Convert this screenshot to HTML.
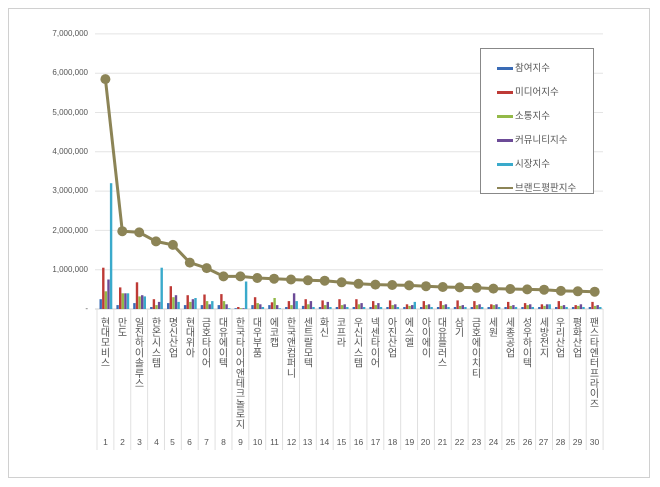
<!DOCTYPE html>
<html><head><meta charset="utf-8"><style>
body{margin:0;background:#fff;width:660px;height:487px;overflow:hidden;font-family:"Liberation Sans","Noto Sans CJK KR",sans-serif}
#frame{position:absolute;left:8px;top:8px;width:642px;height:470px;border:1px solid #d0d0d0;box-sizing:border-box}
.yl{position:absolute;right:572px;font-size:8px;color:#555;text-align:right}
.cl{position:absolute;top:317px;writing-mode:vertical-rl;text-orientation:upright;font-size:10px;color:#555;letter-spacing:0.2px;font-family:"Noto Sans CJK KR",sans-serif;line-height:11px}
.nl{position:absolute;top:437px;font-size:8.5px;color:#555;width:17px;text-align:center}
#leg{position:absolute;left:480px;top:48px;width:112px;height:144px;border:1px solid #888;background:#fff;font-size:9.5px;color:#555;font-family:"Noto Sans CJK KR",sans-serif}
#leg div{position:absolute;left:16px;height:12px;line-height:12px}
#leg span{display:inline-block;width:16px;height:3px;margin-right:2px;vertical-align:middle}
</style></head><body>
<div id="frame"></div>
<svg id="s" width="660" height="487" style="position:absolute;left:0;top:0"></svg>
<div class="yl" style="top:29px">7,000,000</div>
<div class="yl" style="top:68px">6,000,000</div>
<div class="yl" style="top:108px">5,000,000</div>
<div class="yl" style="top:147px">4,000,000</div>
<div class="yl" style="top:186px">3,000,000</div>
<div class="yl" style="top:226px">2,000,000</div>
<div class="yl" style="top:265px">1,000,000</div>
<div class="yl" style="top:304px">-</div>
<div id="cats">
<div class="cl" style="left:100px">현대모비스</div>
<div class="cl" style="left:117px">만도</div>
<div class="cl" style="left:134px">일진하이솔루스</div>
<div class="cl" style="left:151px">한온시스템</div>
<div class="cl" style="left:168px">명신산업</div>
<div class="cl" style="left:185px">현대위아</div>
<div class="cl" style="left:201px">금호타이어</div>
<div class="cl" style="left:218px">대유에이텍</div>
<div class="cl" style="left:235px">한국타이어앤테크놀로지</div>
<div class="cl" style="left:252px">대우부품</div>
<div class="cl" style="left:269px">에코캡</div>
<div class="cl" style="left:286px">한국앤컴퍼니</div>
<div class="cl" style="left:303px">센트랄모텍</div>
<div class="cl" style="left:319px">화신</div>
<div class="cl" style="left:336px">코프라</div>
<div class="cl" style="left:353px">우신시스템</div>
<div class="cl" style="left:370px">넥센타이어</div>
<div class="cl" style="left:387px">아진산업</div>
<div class="cl" style="left:404px">에스엘</div>
<div class="cl" style="left:421px">아이에이</div>
<div class="cl" style="left:437px">대유플러스</div>
<div class="cl" style="left:454px">삼기</div>
<div class="cl" style="left:471px">금호에이치티</div>
<div class="cl" style="left:488px">세원</div>
<div class="cl" style="left:505px">세종공업</div>
<div class="cl" style="left:522px">성우하이텍</div>
<div class="cl" style="left:539px">세방전지</div>
<div class="cl" style="left:555px">우리산업</div>
<div class="cl" style="left:572px">평화산업</div>
<div class="cl" style="left:589px">팬스타엔터프라이즈</div>
</div>
<div class="nl" style="left:97px">1</div><div class="nl" style="left:114px">2</div><div class="nl" style="left:131px">3</div><div class="nl" style="left:148px">4</div><div class="nl" style="left:164px">5</div><div class="nl" style="left:181px">6</div><div class="nl" style="left:198px">7</div><div class="nl" style="left:215px">8</div><div class="nl" style="left:232px">9</div><div class="nl" style="left:249px">10</div><div class="nl" style="left:266px">11</div><div class="nl" style="left:283px">12</div><div class="nl" style="left:299px">13</div><div class="nl" style="left:316px">14</div><div class="nl" style="left:333px">15</div><div class="nl" style="left:350px">16</div><div class="nl" style="left:367px">17</div><div class="nl" style="left:384px">18</div><div class="nl" style="left:401px">19</div><div class="nl" style="left:417px">20</div><div class="nl" style="left:434px">21</div><div class="nl" style="left:451px">22</div><div class="nl" style="left:468px">23</div><div class="nl" style="left:485px">24</div><div class="nl" style="left:502px">25</div><div class="nl" style="left:519px">26</div><div class="nl" style="left:535px">27</div><div class="nl" style="left:552px">28</div><div class="nl" style="left:569px">29</div><div class="nl" style="left:586px">30</div>
<div id="leg">
<div style="top:12px"><span style="background:#3a6bb5"></span>참여지수</div>
<div style="top:36px"><span style="background:#be3a36"></span>미디어지수</div>
<div style="top:60px"><span style="background:#93b948"></span>소통지수</div>
<div style="top:84px"><span style="background:#6c4b97"></span>커뮤니티지수</div>
<div style="top:108px"><span style="background:#3aaacb"></span>시장지수</div>
<div style="top:132px"><span style="background:#8c8456;height:2px"></span>브랜드평판지수</div>
</div>
<script>
var s=document.getElementById('s'),h='';
var X0=97,W=16.87,Y0=309,K=39.3;
for(var i=0;i<7;i++){var y=Y0-(i+1)*K;h+='<line x1="95" x2="603" y1="'+y+'" y2="'+y+'" stroke="#e4e4e4"/>';}
h+='<line x1="95" x2="603" y1="309" y2="309" stroke="#d0d0d0"/>';
for(var i=0;i<=30;i++){var x=X0+i*W;h+='<line x1="'+x+'" x2="'+x+'" y1="309" y2="450" stroke="#e0e0e0"/>';}
var B=[[.25,1.05,.45,.75,3.2],[.1,.55,.4,.4,.4],[.15,.68,.32,.35,.32],[.05,.25,.1,.18,1.05],[.15,.58,.3,.35,.18],[.1,.35,.18,.25,.28],[.1,.37,.2,.12,.2],[.1,.38,.2,.12,.02],[.02,.05,.02,.02,.7],[.1,.3,.15,.12,.05],[.1,.17,.28,.1,.02],[.05,.2,.1,.4,.2],[.08,.25,.12,.2,.05],[.05,.22,.1,.18,.05],[.05,.25,.1,.12,.05],[.05,.25,.12,.15,.05],[.05,.2,.1,.15,.05],[.05,.22,.1,.12,.05],[.05,.12,.08,.1,.18],[.05,.2,.1,.12,.05],[.05,.2,.1,.12,.05],[.05,.22,.08,.1,.05],[.05,.2,.1,.12,.05],[.05,.12,.1,.12,.05],[.05,.18,.08,.1,.05],[.05,.15,.1,.12,.05],[.05,.12,.08,.12,.12],[.05,.2,.08,.1,.05],[.05,.1,.08,.12,.05],[.05,.18,.08,.1,.05]];
var C=['#3a6bb5','#be3a36','#93b948','#6c4b97','#3aaacb'];
B.forEach(function(b,i){for(var j=0;j<5;j++){var x=X0+i*W+2.5+j*2.6,hh=b[j]*K;h+='<rect x="'+x.toFixed(1)+'" y="'+(Y0-hh).toFixed(1)+'" width="2.4" height="'+hh.toFixed(1)+'" fill="'+C[j]+'"/>';}});
var L=[5.85,1.98,1.95,1.72,1.63,1.18,1.04,.83,.83,.79,.77,.75,.73,.72,.68,.64,.62,.61,.6,.58,.56,.55,.54,.52,.51,.5,.49,.46,.45,.44],p=[];
L.forEach(function(v,i){p.push((X0+(i+.5)*W).toFixed(1)+','+(Y0-v*K).toFixed(1));});
h+='<polyline points="'+p.join(' ')+'" fill="none" stroke="#8c8456" stroke-width="3"/>';
p.forEach(function(q){var a=q.split(',');h+='<circle cx="'+a[0]+'" cy="'+a[1]+'" r="5" fill="#8c8456"/>';});
s.innerHTML=h;
</script>
</body></html>
